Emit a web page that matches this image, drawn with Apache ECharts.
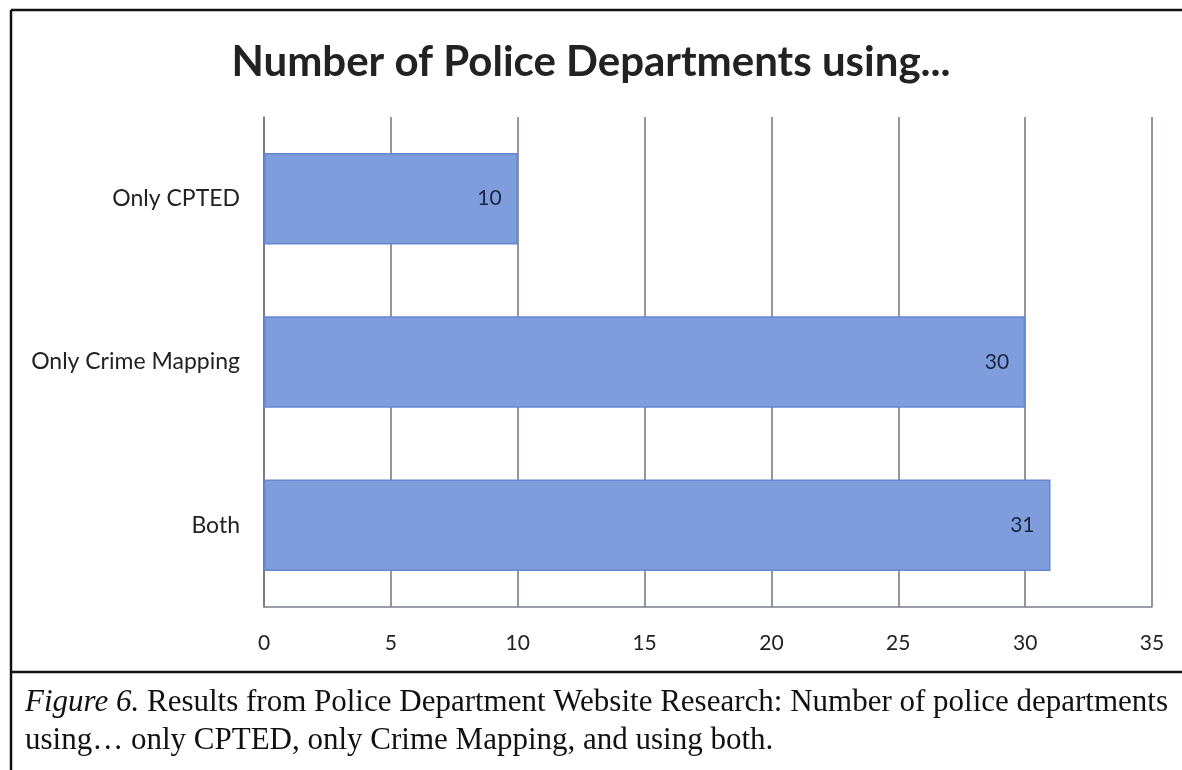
<!DOCTYPE html>
<html>
<head>
<meta charset="utf-8">
<script src="https://cdn.jsdelivr.net/npm/echarts@6/dist/echarts.min.js"></script>
<style>
  html, body { margin: 0; padding: 0; background: #fff; }
  #main { width: 1182px; height: 770px; }
</style>
</head>
<body>
<div id="main"></div>
<script>
// data
var categories = ['Only CPTED', 'Only Crime Mapping', 'Both'];
var counts = [10, 30, 31];
var titleText = 'Number of Police Departments using...';
var captionLead = 'Figure 6.';
var captionLine1 = ' Results from Police Department Website Research: Number of police departments';
var captionLine2 = 'using\u2026 only CPTED, only Crime Mapping, and using both.';

var myChart = echarts.init(document.getElementById('main'));

var option = {
    backgroundColor: '#fff',
    animation: false,
    title: {
        text: titleText,
        left: 'center',
        top: 36,
        textStyle: {
            fontFamily: 'Lato',
            fontWeight: 'bold',
            fontSize: 42,
            color: '#222'
        }
    },
    grid: {
        left: 264,
        right: 30,
        top: 117,
        bottom: 163,
        containLabel: false
    },
    xAxis: {
        type: 'value',
        min: 0,
        max: 35,
        interval: 5,
        axisLine: { show: true, lineStyle: { color: '#7a7f8c', width: 1.5 } },
        axisTick: { show: false },
        axisLabel: {
            margin: 26,
            fontFamily: 'Lato',
            fontSize: 21,
            color: '#222'
        },
        splitLine: { show: true, lineStyle: { color: '#6e7382', width: 1.5 } }
    },
    yAxis: {
        type: 'category',
        inverse: true,
        data: categories,
        axisLine: { show: true, lineStyle: { color: '#6e7382', width: 1.5 } },
        axisTick: { show: false },
        axisLabel: {
            margin: 24,
            fontFamily: 'Lato',
            fontSize: 23,
            color: '#222'
        }
    },
    series: [{
        type: 'bar',
        data: counts,
        barCategoryGap: '44%',
        itemStyle: {
            color: '#7f9ddc',
            borderColor: '#6487d2',
            borderWidth: 1.5
        },
        label: {
            show: true,
            position: 'insideRight',
            distance: 16,
            fontFamily: 'Lato',
            fontSize: 21,
            color: '#1c2540'
        }
    }],
    graphic: [
        // frame lines
        { type: 'line', shape: { x1: 11, y1: 10, x2: 1182, y2: 10 }, style: { stroke: '#111', lineWidth: 2.5 } },
        { type: 'line', shape: { x1: 11, y1: 10, x2: 11, y2: 770 }, style: { stroke: '#111', lineWidth: 2.5 } },
        { type: 'line', shape: { x1: 11, y1: 672, x2: 1182, y2: 672 }, style: { stroke: '#111', lineWidth: 2.5 } },
        // caption
        {
            type: 'text',
            left: 25,
            top: 687,
            style: {
                text: '{i|' + captionLead + '}{n|' + captionLine1 + '}\n{n|' + captionLine2 + '}',
                rich: {
                    i: { fontFamily: 'Liberation Serif', fontStyle: 'italic', fontSize: 31, lineHeight: 38, fill: '#111' },
                    n: { fontFamily: 'Liberation Serif', fontSize: 31, lineHeight: 38, fill: '#111' }
                }
            }
        }
    ]
};

myChart.setOption(option);
</script>
</body>
</html>
